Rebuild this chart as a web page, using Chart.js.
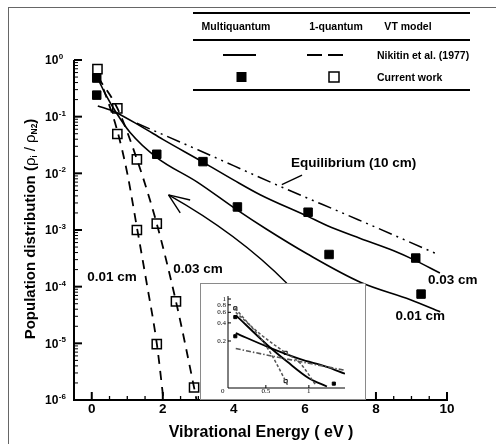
<!DOCTYPE html>
<html>
<head>
<meta charset="utf-8">
<script src="https://cdn.jsdelivr.net/npm/chart.js@4/dist/chart.umd.min.js"></script>
<style>
  html, body { margin: 0; padding: 0; background: #fff; overflow: hidden; }
  #wrap { position: relative; width: 496px; height: 444px; }
  #frame { position: absolute; left: 8px; top: 7px; width: 700px; height: 700px;
           border-left: 1px solid #666; border-top: 1px solid #666; }
  #main { position: absolute; left: 0; top: 0; }
  #insetBox { position: absolute; left: 200px; top: 283px; width: 166px; height: 117px;
              box-sizing: border-box; border: 1px solid #8a8a8a; background: #fff; }
  #inset { position: absolute; left: 0; top: 0; }
</style>
</head>
<body>
<div id="wrap">
  <div id="frame"></div>
  <canvas id="main" width="496" height="444"></canvas>
  <div id="insetBox"><canvas id="inset" width="164" height="115"></canvas></div>
</div>
<script>
// ---- Main panel: population rho_i / rho_N2 against vibrational energy (eV) ----

// Multiquantum model (Nikitin et al. 1977), 0.03 cm
const mq003Energy = [0.17, 0.66, 1.41, 2.0, 3.13, 4.0, 4.74, 6.08, 6.62, 7.56, 8.5, 9.06, 9.8];
const mq003Pop    = [0.155, 0.12, 0.066, 0.0398, 0.0158, 0.0076, 0.0042, 0.00174, 0.0012, 0.00071, 0.00043, 0.0003, 0.000174];

// Multiquantum model (Nikitin et al. 1977), 0.01 cm
const mq001Energy = [0.17, 0.4, 0.66, 1.08, 1.83, 2.96, 4.1, 4.9, 6.06, 7.56, 8.97, 9.81];
const mq001Pop    = [0.468, 0.24, 0.126, 0.0525, 0.019, 0.00708, 0.00224, 0.00105, 0.00038, 0.00012, 0.000059, 0.000036];

// 1-quantum model (Nikitin et al. 1977), 0.01 cm
const oq001Energy = [0.17, 0.45, 0.72, 1.0, 1.27, 1.55, 1.83, 2.02];
const oq001Pop    = [0.562, 0.19, 0.0562, 0.01, 0.00112, 0.000112, 0.00001, 0.000001];

// 1-quantum model (Nikitin et al. 1977), 0.03 cm
const oq003Energy = [0.17, 0.72, 1.27, 1.83, 2.37, 2.88, 2.98];
const oq003Pop    = [0.5, 0.141, 0.0178, 0.00129, 0.000055, 0.00000166, 0.00000079];

// Equilibrium distribution (10 cm)
const eqEnergy = [1.27, 3.0, 5.21, 7.5, 9.67];
const eqPop    = [0.0764, 0.0258, 0.00624, 0.00152, 0.000389];

// Current work, multiquantum (filled squares)
const cwMq003Energy = [0.14, 1.83, 3.13, 6.09, 9.12];
const cwMq003Pop    = [0.24, 0.0217, 0.0161, 0.00206, 0.00032];
const cwMq001Energy = [0.14, 4.1, 6.68, 9.27];
const cwMq001Pop    = [0.48, 0.00255, 0.00037, 0.000074];

// Current work, 1-quantum (open squares)
const cwOq001Energy = [0.16, 0.72, 1.27, 1.83];
const cwOq001Pop    = [0.69, 0.0495, 0.001, 0.0000097];
const cwOq003Energy = [0.72, 1.27, 1.83, 2.37, 2.88];
const cwOq003Pop    = [0.14, 0.0177, 0.0013, 0.000055, 0.00000166];

// Axis ticks
const xTickValues = [0, 2, 4, 6, 8, 10];
const xTickLabels = ['0', '2', '4', '6', '8', '10'];
const yTickExponents = [0, -1, -2, -3, -4, -5, -6];

// ---- Inset: low-energy close-up ----
const inMq001Energy = [0.15, 0.52, 0.75, 1.0, 1.21];
const inMq001Pop    = [0.54, 0.17, 0.09, 0.048, 0.035];
const inMq003Energy = [0.15, 0.52, 0.9, 1.2, 1.42];
const inMq003Pop    = [0.27, 0.16, 0.10, 0.075, 0.057];
const inEqEnergy    = [0.15, 0.6, 1.0, 1.42];
const inEqPop       = [0.15, 0.11, 0.085, 0.065];
const inOq001Energy = [0.145, 0.51, 0.73, 0.76];
const inOq001Pop    = [0.70, 0.16, 0.043, 0.035];
const inOq003Energy = [0.15, 0.45, 0.73, 0.9, 1.08];
const inOq003Pop    = [0.6, 0.25, 0.127, 0.085, 0.037];
const inCwFilledEnergy = [0.145, 0.145, 1.29];
const inCwFilledPop    = [0.5, 0.24, 0.039];
const inCwOpenEnergy   = [0.145, 0.73, 0.73];
const inCwOpenPop      = [0.70, 0.127, 0.043];
const inXTickValues = [0, 0.5, 1];
const inXTickLabels = ['0', '0.5', '1'];
const inYTickValues = [1, 0.8, 0.6, 0.4, 0.2];
const inYTickLabels = ['1', '0.8', '0.6', '0.4', '0.2'];

const SANS = '"Liberation Sans", Arial, Helvetica, sans-serif';
const SERIF = '"Liberation Serif", "DejaVu Serif", serif';

const pts = (xs, ys) => xs.map((v, i) => ({ x: v, y: ys[i] }));

function curve(xs, ys, dash, width) {
  return {
    data: pts(xs, ys), showLine: true, borderColor: '#000', borderWidth: width,
    borderDash: dash, pointRadius: 0, fill: false, cubicInterpolationMode: 'monotone'
  };
}
function marks(xs, ys, filled, r, bw) {
  return {
    data: pts(xs, ys), showLine: false, pointStyle: 'rect', pointRadius: r,
    backgroundColor: filled ? '#000' : 'rgba(0,0,0,0)', borderColor: '#000', borderWidth: bw
  };
}

// Annotation anchors in data units (energy, population)
const eqLeader = [[5.35, 0.0063], [5.92, 0.0093]];
const arrowTip = [2.16, 0.00417];
const arrowMid = [3.98, 0.00076];
const arrowEnd = [5.49, 0.000115];
const arrowArms = [[2.77, 0.00339], [2.49, 0.002]];
const curveLabels = [
  { text: 'Equilibrium (10 cm)', at: [7.37, 0.0151] },
  { text: '0.03 cm', at: [10.16, 0.000132] },
  { text: '0.01 cm', at: [9.25, 0.0000295] },
  { text: '0.01 cm', at: [0.57, 0.000148] },
  { text: '0.03 cm', at: [2.99, 0.000204] }
];

const decor = {
  id: 'figureDecor',
  afterDatasetsDraw(chart) {
    const { ctx, chartArea: a, scales: { x, y } } = chart;
    const P = ([e, p]) => [x.getPixelForValue(e), y.getPixelForValue(p)];
    ctx.save();
    ctx.strokeStyle = '#000';
    ctx.fillStyle = '#000';
    ctx.lineCap = 'butt';

    // leader line for the equilibrium label
    ctx.lineWidth = 1.3;
    ctx.beginPath();
    let p0 = P(eqLeader[0]), p1 = P(eqLeader[1]);
    ctx.moveTo(p0[0], p0[1]); ctx.lineTo(p1[0], p1[1]); ctx.stroke();

    // arrow pointing to the region shown in the inset
    const t = P(arrowTip), m = P(arrowMid), e = P(arrowEnd);
    const cx = 2 * m[0] - (t[0] + e[0]) / 2, cy = 2 * m[1] - (t[1] + e[1]) / 2;
    ctx.lineWidth = 1.4;
    ctx.beginPath();
    ctx.moveTo(t[0], t[1]); ctx.quadraticCurveTo(cx, cy, e[0], e[1]); ctx.stroke();
    ctx.beginPath();
    arrowArms.forEach(arm => {
      const q = P(arm);
      ctx.moveTo(t[0], t[1]); ctx.lineTo(q[0], q[1]);
    });
    ctx.stroke();

    // axes
    ctx.lineWidth = 2;
    ctx.beginPath();
    ctx.moveTo(a.left, a.top); ctx.lineTo(a.left, a.bottom); ctx.lineTo(a.right + 1, a.bottom);
    ctx.stroke();

    // x ticks (inward)
    for (let v = 0; v <= 10.001; v += 0.5) {
      const px = x.getPixelForValue(v);
      const major = xTickValues.includes(Math.round(v * 10) / 10);
      ctx.lineWidth = major ? 2 : 1.3;
      ctx.beginPath();
      ctx.moveTo(px, a.bottom); ctx.lineTo(px, a.bottom - (major ? 8 : 4));
      ctx.stroke();
    }
    // y ticks (inward), decades plus 2..9 minors
    yTickExponents.forEach(k => {
      const py = y.getPixelForValue(Math.pow(10, k));
      ctx.lineWidth = 2;
      ctx.beginPath(); ctx.moveTo(a.left, py); ctx.lineTo(a.left + 8, py); ctx.stroke();
      if (k < 0) {
        ctx.lineWidth = 1;
        for (let mm = 2; mm <= 9; mm++) {
          const pm = y.getPixelForValue(mm * Math.pow(10, k));
          ctx.beginPath(); ctx.moveTo(a.left, pm); ctx.lineTo(a.left + 4, pm); ctx.stroke();
        }
      }
    });

    // tick labels
    ctx.font = `bold 13.5px ${SANS}`;
    ctx.textAlign = 'center';
    ctx.textBaseline = 'middle';
    xTickValues.forEach((v, i) => ctx.fillText(xTickLabels[i], x.getPixelForValue(v), 409));

    yTickExponents.forEach(k => {
      const py = y.getPixelForValue(Math.pow(10, k));
      ctx.font = `bold 12px ${SANS}`;
      ctx.textAlign = 'left';
      ctx.textBaseline = 'middle';
      ctx.fillText('10', 45, py + 1);
      const w = ctx.measureText('10').width;
      ctx.font = `bold 8px ${SANS}`;
      ctx.textBaseline = 'alphabetic';
      ctx.fillText(String(k), 45 + w + 0.5, py - 1);
    });

    // axis titles
    ctx.font = `bold 16px ${SANS}`;
    ctx.textAlign = 'center';
    ctx.textBaseline = 'middle';
    ctx.fillText('Vibrational Energy ( eV )', 261, 433);

    const segs = [
      { t: 'Population distribution (', f: `bold 15px ${SANS}`, dy: 0 },
      { t: 'ρ', f: `15px ${SANS}`, dy: 0 },
      { t: 'i', f: `9px ${SANS}`, dy: 4 },
      { t: ' / ', f: `15px ${SANS}`, dy: 0 },
      { t: 'ρ', f: `15px ${SANS}`, dy: 0 },
      { t: 'N2', f: `bold 8.5px ${SANS}`, dy: 4 },
      { t: ')', f: `bold 15px ${SANS}`, dy: 0 }
    ];
    let total = 0;
    segs.forEach(s => { ctx.font = s.f; s.w = ctx.measureText(s.t).width; total += s.w; });
    ctx.save();
    ctx.translate(31, 229);
    ctx.rotate(-Math.PI / 2);
    ctx.textAlign = 'left';
    ctx.textBaseline = 'middle';
    let cxp = -total / 2;
    segs.forEach(s => { ctx.font = s.f; ctx.fillText(s.t, cxp, s.dy); cxp += s.w; });
    ctx.restore();

    // curve labels
    ctx.font = `bold 13.5px ${SANS}`;
    ctx.textAlign = 'center';
    ctx.textBaseline = 'middle';
    curveLabels.forEach(l => { const q = P(l.at); ctx.fillText(l.text, q[0], q[1]); });

    // legend table
    ctx.lineWidth = 2;
    [13, 40, 90].forEach(yy => { ctx.beginPath(); ctx.moveTo(193, yy); ctx.lineTo(470, yy); ctx.stroke(); });
    ctx.font = `bold 10.5px ${SANS}`;
    ctx.textAlign = 'center';
    ctx.fillText('Multiquantum', 236, 27);
    ctx.fillText('1-quantum', 336, 27);
    ctx.fillText('VT model', 408, 27);
    ctx.textAlign = 'left';
    ctx.fillText('Nikitin et al. (1977)', 377, 56);
    ctx.fillText('Current work', 377, 78);
    ctx.lineWidth = 2;
    ctx.beginPath(); ctx.moveTo(223, 55); ctx.lineTo(256, 55); ctx.stroke();
    ctx.beginPath(); ctx.moveTo(307, 55); ctx.lineTo(322, 55); ctx.moveTo(328, 55); ctx.lineTo(343, 55); ctx.stroke();
    ctx.fillRect(236.5, 72, 10, 10);
    ctx.lineWidth = 1.5;
    ctx.strokeRect(329, 72, 10, 10);

    ctx.restore();
  }
};

new Chart(document.getElementById('main'), {
  type: 'scatter',
  data: {
    datasets: [
      curve(eqEnergy, eqPop, [14, 5, 2, 5, 2, 5], 1.5),
      curve(mq003Energy, mq003Pop, [], 1.6),
      curve(mq001Energy, mq001Pop, [], 1.6),
      curve(oq001Energy, oq001Pop, [9, 7], 1.8),
      curve(oq003Energy, oq003Pop, [9, 7], 1.8),
      marks(cwMq003Energy, cwMq003Pop, true, 6, 1),
      marks(cwMq001Energy, cwMq001Pop, true, 6, 1),
      marks(cwOq001Energy, cwOq001Pop, false, 6.5, 1.5),
      marks(cwOq003Energy, cwOq003Pop, false, 6.5, 1.5)
    ]
  },
  options: {
    responsive: false, maintainAspectRatio: false, animation: false, devicePixelRatio: 1,
    layout: { padding: { left: 74, right: 49, top: 60, bottom: 44 } },
    plugins: { legend: { display: false }, tooltip: { enabled: false } },
    scales: {
      x: { type: 'linear', min: -0.5, max: 10, display: false },
      y: { type: 'logarithmic', min: 1e-6, max: 1, display: false }
    }
  },
  plugins: [decor]
});

// ---- inset chart ----
const insetDecor = {
  id: 'insetDecor',
  afterDatasetsDraw(chart) {
    const { ctx, chartArea: a, scales: { x, y } } = chart;
    ctx.save();
    ctx.strokeStyle = '#000';
    ctx.fillStyle = '#000';
    ctx.lineWidth = 1;
    ctx.beginPath();
    ctx.moveTo(a.left, a.top - 3); ctx.lineTo(a.left, a.bottom); ctx.lineTo(a.right, a.bottom);
    ctx.stroke();
    inYTickValues.forEach(v => {
      const py = y.getPixelForValue(v);
      ctx.beginPath(); ctx.moveTo(a.left, py); ctx.lineTo(a.left + 3, py); ctx.stroke();
    });
    inXTickValues.forEach(v => {
      const px = x.getPixelForValue(v);
      if (px > a.left) { ctx.beginPath(); ctx.moveTo(px, a.bottom); ctx.lineTo(px, a.bottom - 3); ctx.stroke(); }
    });
    ctx.font = `7px ${SERIF}`;
    ctx.textAlign = 'right';
    ctx.textBaseline = 'middle';
    inYTickValues.forEach((v, i) => ctx.fillText(inYTickLabels[i], a.left - 2, y.getPixelForValue(v)));
    ctx.textAlign = 'center';
    inXTickValues.forEach((v, i) => ctx.fillText(inXTickLabels[i], x.getPixelForValue(v), a.bottom + 3));
    ctx.restore();
  }
};

function inCurve(xs, ys, dash, width, color) {
  return {
    data: pts(xs, ys), showLine: true, borderColor: color, borderWidth: width,
    borderDash: dash, pointRadius: 0, fill: false, cubicInterpolationMode: 'monotone'
  };
}

new Chart(document.getElementById('inset'), {
  type: 'scatter',
  data: {
    datasets: [
      inCurve(inEqEnergy, inEqPop, [5, 2, 1.5, 2], 1.6, '#555'),
      inCurve(inOq001Energy, inOq001Pop, [3, 2], 1.5, '#555'),
      inCurve(inOq003Energy, inOq003Pop, [3, 2], 1.5, '#555'),
      inCurve(inMq001Energy, inMq001Pop, [], 1.8, '#000'),
      inCurve(inMq003Energy, inMq003Pop, [], 1.8, '#000'),
      marks(inCwFilledEnergy, inCwFilledPop, true, 2.2, 1),
      marks(inCwOpenEnergy, inCwOpenPop, false, 2.2, 1)
    ]
  },
  options: {
    responsive: false, maintainAspectRatio: false, animation: false, devicePixelRatio: 1,
    layout: { padding: { left: 27, right: 20, top: 15, bottom: 11 } },
    plugins: { legend: { display: false }, tooltip: { enabled: false } },
    scales: {
      x: { type: 'linear', min: 0.06, max: 1.42, display: false },
      y: { type: 'logarithmic', min: 0.033, max: 1, display: false }
    }
  },
  plugins: [insetDecor]
});
</script>
</body>
</html>
